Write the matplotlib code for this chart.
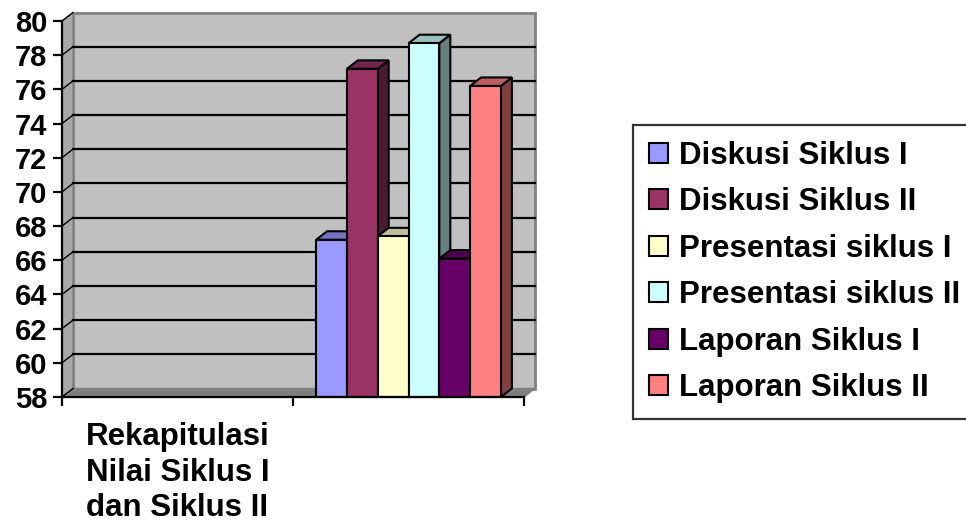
import numpy as np
import matplotlib
matplotlib.use("Agg")
import matplotlib.pyplot as plt
from matplotlib.patches import Polygon, Patch

plt.rcParams['font.family'] = ['Liberation Sans', 'DejaVu Sans']
plt.rcParams['font.weight'] = 'bold'

# chart data
categories = ['Rekapitulasi\nNilai Siklus I\ndan Siklus II', '']
series = ['Diskusi Siklus I', 'Diskusi Siklus II', 'Presentasi siklus I',
          'Presentasi siklus II', 'Laporan Siklus I', 'Laporan Siklus II']
scores = [67.2, 77.2, 67.4, 78.7, 66.1, 76.2]   # all in the second category slot
colors = ['#9999FF', '#993366', '#FFFFCC', '#CCFFFF', '#660066', '#FF8080']
yticks = list(range(58, 81, 2))

ymin, ymax = 58, 80
ncat = len(categories)
slot = 1

fig = plt.figure(figsize=(9.66, 5.31), dpi=100)
W, H = 966, 531
ax_l, ax_r, ax_t, ax_b = 62, 524, 21, 397
ax = fig.add_axes([ax_l / W, 1 - ax_b / H, (ax_r - ax_l) / W, (ax_b - ax_t) / H])
ax.set_xlim(0, ncat)
ax.set_ylim(ymin, ymax)
ax.patch.set_visible(False)

# depth offset of the 3d box, pixels -> data units
dx = 11 / (ax_r - ax_l) * ncat
dy = 8.5 / (ax_b - ax_t) * (ymax - ymin)


def shade(c, f):
    r, g, b = matplotlib.colors.to_rgb(c)
    return (r * f, g * f, b * f)


def poly(pts, fc, ec='black', lw=1.5, z=1):
    ax.add_patch(Polygon(pts, closed=True, facecolor=fc, edgecolor=ec,
                         linewidth=lw, zorder=z, clip_on=False, joinstyle='miter'))


# back wall, side wall, floor
poly([(dx, ymin + dy), (ncat + dx, ymin + dy), (ncat + dx, ymax + dy), (dx, ymax + dy)],
     '#C0C0C0', ec='#808080', lw=2, z=0)
poly([(0, ymin), (dx, ymin + dy), (dx, ymax + dy), (0, ymax)], '#A8A8A8', ec='#808080', lw=1, z=0.5)
poly([(0, ymin), (ncat, ymin), (ncat + dx, ymin + dy), (dx, ymin + dy)], '#808080', ec='#808080', lw=1, z=0.5)

for v in yticks[1:-1]:
    ax.plot([dx, ncat + dx], [v + dy, v + dy], color='black', lw=1.6, zorder=1, clip_on=False)
for v in yticks:
    ax.plot([0, dx], [v, v + dy], color='black', lw=1, zorder=1, clip_on=False)

# 3d columns
gap = 0.1
w = (1 - 2 * gap) / len(series)
for i, (v, c) in enumerate(zip(scores, colors)):
    x0 = slot + gap + i * w
    poly([(x0 + w, ymin), (x0 + w + dx, ymin + dy), (x0 + w + dx, v + dy), (x0 + w, v)],
         shade(c, 0.5), z=3 + i)
    poly([(x0, v), (x0 + dx, v + dy), (x0 + w + dx, v + dy), (x0 + w, v)],
         shade(c, 0.75), z=3 + i)
    ax.bar(x0, v - ymin, bottom=ymin, width=w, align='edge', color=c,
           edgecolor='black', linewidth=1.5, zorder=3 + i, clip_on=False)

# axes
for s in ['top', 'right']:
    ax.spines[s].set_visible(False)
for s in ['left', 'bottom']:
    ax.spines[s].set_linewidth(1.6)
    ax.spines[s].set_zorder(10)

ax.set_yticks(yticks)
ax.tick_params(axis='y', length=6.5, width=1.6, labelsize=21, pad=4)
ax.set_xticks(range(ncat + 1))
ax.set_xticklabels([])
ax.tick_params(axis='x', which='major', length=6.5, width=1.6)
ax.set_xticks(np.arange(ncat) + 0.5, minor=True)
ax.set_xticklabels(categories, minor=True, fontsize=22.5, linespacing=1.25)
ax.tick_params(axis='x', which='minor', length=0, pad=18)

handles = [Patch(facecolor=c, edgecolor='black', linewidth=1.5) for c in colors]
leg = fig.legend(handles, series, loc='upper left', bbox_to_anchor=(633 / W, 1 - 125 / H),
                 bbox_transform=fig.transFigure, fontsize=22.5, frameon=True, fancybox=False,
                 edgecolor='black', handlelength=0.61, handleheight=0.61, handletextpad=0.35,
                 borderpad=0.5, borderaxespad=0, labelspacing=0.53)
leg.get_frame().set_linewidth(1.6)

fig.savefig('out.png', dpi=100)
